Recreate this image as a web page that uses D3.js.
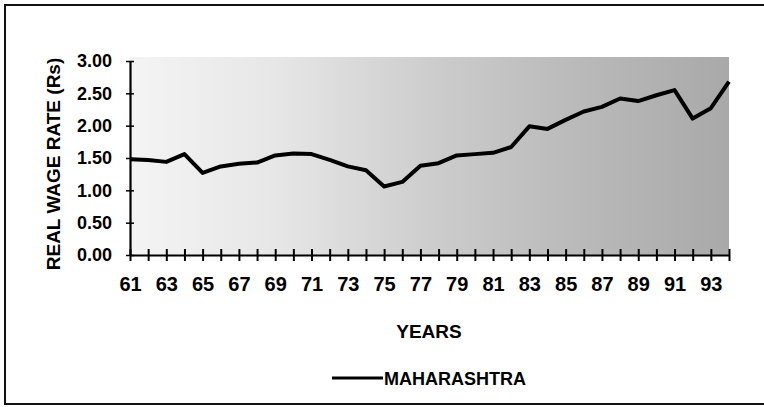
<!DOCTYPE html>
<html>
<head>
<meta charset="utf-8">
<style>
  body { margin: 0; background: #fff; }
  svg { display: block; }
  .lbl { font-family: "Liberation Sans", Arial, sans-serif; font-weight: bold; }
</style>
</head>
<body>
<svg width="764" height="407"></svg>
<script src="https://cdn.jsdelivr.net/npm/d3@7"></script>
<script>
  // real wage rate, Maharashtra, 1961-94
  const years = [61, 62, 63, 64, 65, 66, 67, 68, 69, 70, 71, 72, 73, 74, 75, 76, 77,
                 78, 79, 80, 81, 82, 83, 84, 85, 86, 87, 88, 89, 90, 91, 92, 93, 94]
  const wage = [1.48, 1.47, 1.44, 1.56, 1.27, 1.37, 1.41, 1.43, 1.54, 1.57, 1.56, 1.47, 1.37, 1.31, 1.06, 1.13, 1.38,
                1.42, 1.54, 1.56, 1.58, 1.67, 1.99, 1.95, 2.09, 2.22, 2.29, 2.42, 2.38, 2.47, 2.55, 2.11, 2.27, 2.68]
  const yTicks = [0, 0.5, 1, 1.5, 2, 2.5, 3]
  const xLabels = [61, 63, 65, 67, 69, 71, 73, 75, 77, 79, 81, 83, 85, 87, 89, 91, 93]
  const seriesName = "MAHARASHTRA"

  const svg = d3.select("svg")

  // outer frame of the scanned figure (right edge runs off the page)
  svg.append("rect")
    .attr("x", 5).attr("y", 5)
    .attr("width", 780).attr("height", 399)
    .attr("fill", "none")
    .attr("stroke", "#111")
    .attr("stroke-width", 2)

  const x = d3.scaleLinear().domain([61, 94]).range([130, 729])
  const y = d3.scaleLinear().domain([0, 3]).range([255, 61])

  // stippled plot background, denser towards the right
  const grad = svg.append("defs").append("linearGradient")
    .attr("id", "stip")
  grad.selectAll("stop")
    .data([[0, "#f4f4f4"], [0.25, "#e6e6e6"], [0.5, "#cdcdcd"], [0.7, "#bdbdbd"], [1, "#a9a9a9"]])
    .join("stop")
      .attr("offset", d => d[0])
      .attr("stop-color", d => d[1])

  svg.append("rect")
    .attr("x", x(61)).attr("y", y(3) - 4)
    .attr("width", x(94) - x(61)).attr("height", y(0) - y(3) + 4)
    .attr("fill", "url(#stip)")

  // x axis: a tick every year, labels on odd years
  const xAxis = svg.append("g")
    .attr("transform", `translate(0,${y(0)})`)
    .call(d3.axisBottom(x)
      .tickValues(years)
      .tickSize(0)
      .tickFormat(d => xLabels.includes(d) ? d : ""))
  xAxis.select(".domain").attr("stroke", "#000").attr("stroke-width", 2.2)
  xAxis.selectAll(".tick line")
    .attr("y1", -6).attr("y2", 6)
    .attr("stroke", "#000").attr("stroke-width", 2)
  xAxis.selectAll(".tick text")
    .attr("class", "lbl")
    .attr("y", 22)
    .attr("font-size", 20)
    .attr("fill", "#000")

  // y axis
  const yAxis = svg.append("g")
    .attr("transform", `translate(${x(61)},0)`)
    .call(d3.axisLeft(y)
      .tickValues(yTicks)
      .tickSize(0)
      .tickFormat(d3.format(".2f")))
  yAxis.select(".domain").attr("stroke", "#000").attr("stroke-width", 2.2)
  yAxis.selectAll(".tick line")
    .attr("x1", -4).attr("x2", 4)
    .attr("stroke", "#000").attr("stroke-width", 1.5)
  yAxis.selectAll(".tick text")
    .attr("class", "lbl")
    .attr("x", -18)
    .attr("font-size", 18)
    .attr("fill", "#000")

  svg.append("text")
    .attr("class", "lbl")
    .attr("transform", `translate(60,${(y(0) + y(3)) / 2 + 6}) rotate(-90)`)
    .attr("text-anchor", "middle")
    .attr("font-size", 19)
    .text("REAL WAGE RATE (Rs)")

  svg.append("text")
    .attr("class", "lbl")
    .attr("x", 429).attr("y", 338)
    .attr("text-anchor", "middle")
    .attr("font-size", 19)
    .text("YEARS")

  // the series
  const line = d3.line()
    .x((d, i) => x(years[i]))
    .y(d => y(d))

  svg.append("path")
    .datum(wage)
    .attr("d", line)
    .attr("fill", "none")
    .attr("stroke", "#000")
    .attr("stroke-width", 4)
    .attr("stroke-linejoin", "round")

  // legend
  const legend = svg.append("g").attr("transform", "translate(332,378)")
  legend.append("line")
    .attr("x1", 0).attr("x2", 51)
    .attr("stroke", "#000").attr("stroke-width", 3)
  legend.append("text")
    .attr("class", "lbl")
    .attr("x", 52).attr("y", 7)
    .attr("font-size", 18)
    .text(seriesName)
</script>
</body>
</html>
